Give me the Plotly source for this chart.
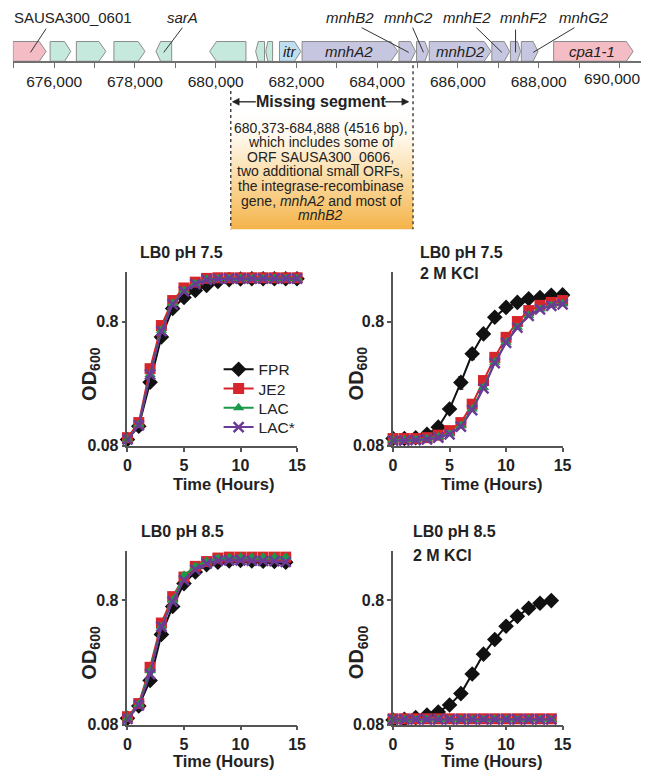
import math
import plotly.graph_objects as go

W, H = 650, 781
FONT = "Liberation Sans, Arial, sans-serif"

def px(x):
    return x / W

def py(y):
    return 1 - y / H

# ---------------- gene map data ----------------
gene_start = [674980, 675900, 676550, 677480, 678520, 679850, 680990, 681240, 681580,
              682140, 684540, 684975, 685290, 686840, 687300, 687570, 688370]
gene_end = [675800, 676410, 677280, 678250, 678910, 680750, 681210, 681410, 682110,
            684510, 684950, 685270, 686820, 687280, 687550, 687985, 690340]
gene_strand = [1, 1, 1, 1, -1, -1, -1, -1, 1, 1, 1, 1, 1, 1, 1, 1, 1]
gene_kind = ["pink", "green", "green", "green", "green", "green", "green", "green", "blue",
             "purple", "purple", "purple", "purple", "purple", "purple", "purple", "pink"]
kind_color = {"pink": "#f4bcc4", "green": "#c6e9dd", "blue": "#bfdff0", "purple": "#c6c6e0"}

missing_start, missing_end = 680373, 684888
map_label_ticks = [676000, 678000, 680000, 682000, 684000, 686000, 688000]
map_label_text = ["676,000", "678,000", "680,000", "682,000", "684,000", "686,000", "688,000"]

# ---------------- growth curve data ----------------
t15 = [0, 1, 2, 3, 4, 5, 6, 7, 8, 9, 10, 11, 12, 13, 14, 15]
t14 = [0, 1, 2, 3, 4, 5, 6, 7, 8, 9, 10, 11, 12, 13, 14]

# LB0 pH 7.5
fpr_a = [0.090, 0.115, 0.26, 0.60, 1.02, 1.25, 1.42, 1.56, 1.68, 1.74, 1.76, 1.77, 1.77, 1.77, 1.77, 1.77]
je2_a = [0.093, 0.123, 0.334, 0.743, 1.18, 1.49, 1.66, 1.78, 1.80, 1.80, 1.80, 1.80, 1.80, 1.80, 1.80, 1.80]
lac_a = [0.090, 0.118, 0.30, 0.68, 1.12, 1.42, 1.62, 1.74, 1.77, 1.78, 1.78, 1.78, 1.78, 1.78, 1.78, 1.78]
lacs_a = [0.090, 0.117, 0.30, 0.67, 1.10, 1.40, 1.60, 1.73, 1.76, 1.77, 1.77, 1.77, 1.77, 1.77, 1.77, 1.77]

# LB0 pH 7.5 2 M KCl
fpr_b = [0.0915, 0.0915, 0.093, 0.099, 0.113, 0.158, 0.259, 0.44, 0.636, 0.867, 1.04, 1.14, 1.22, 1.25, 1.30, 1.31]
fpr_b_err = [0, 0, 0, 0, 0.004, 0.012, 0.03, 0.045, 0.04, 0.03, 0.02, 0.01, 0, 0, 0, 0]
je2_b = [0.0915, 0.0915, 0.0915, 0.093, 0.0974, 0.106, 0.123, 0.173, 0.268, 0.412, 0.597, 0.80, 0.98, 1.08, 1.14, 1.18]
lac_b = [0.089, 0.089, 0.090, 0.091, 0.094, 0.100, 0.116, 0.158, 0.236, 0.376, 0.545, 0.72, 0.894, 1.01, 1.08, 1.11]
lacs_b = [0.088, 0.088, 0.089, 0.090, 0.093, 0.099, 0.114, 0.155, 0.232, 0.37, 0.54, 0.715, 0.89, 1.0, 1.07, 1.10]

# LB0 pH 8.5
fpr_c = [0.090, 0.113, 0.181, 0.425, 0.713, 1.09, 1.35, 1.55, 1.62, 1.66, 1.67, 1.66, 1.65, 1.64, 1.62]
je2_c = [0.0925, 0.118, 0.231, 0.525, 0.856, 1.23, 1.50, 1.64, 1.75, 1.78, 1.78, 1.78, 1.78, 1.78, 1.78]
lac_c = [0.090, 0.116, 0.217, 0.49, 0.80, 1.27, 1.50, 1.64, 1.74, 1.77, 1.78, 1.78, 1.78, 1.78, 1.78]
lacs_c = [0.089, 0.114, 0.204, 0.49, 0.78, 1.16, 1.41, 1.58, 1.67, 1.68, 1.68, 1.67, 1.66, 1.65, 1.63]

# LB0 pH 8.5 2 M KCl
fpr_d = [0.087, 0.088, 0.091, 0.0956, 0.101, 0.115, 0.142, 0.204, 0.295, 0.387, 0.495, 0.594, 0.69, 0.757, 0.795]
fpr_d_err = [0, 0, 0, 0, 0, 0.004, 0.01, 0.014, 0.02, 0.02, 0.015, 0.01, 0, 0, 0]
je2_d = [0.089, 0.089, 0.089, 0.089, 0.089, 0.089, 0.089, 0.089, 0.089, 0.089, 0.089, 0.089, 0.089, 0.089, 0.089]
lac_d = [0.088, 0.088, 0.088, 0.088, 0.088, 0.088, 0.088, 0.088, 0.088, 0.088, 0.088, 0.088, 0.088, 0.088, 0.088]
lacs_d = [0.088, 0.088, 0.088, 0.088, 0.088, 0.088, 0.088, 0.088, 0.088, 0.088, 0.088, 0.088, 0.088, 0.088, 0.088]

strains = ["FPR", "JE2", "LAC", "LAC*"]
strain_color = {"FPR": "#111111", "JE2": "#d7262b", "LAC": "#1a9a48", "LAC*": "#6c3a97"}
strain_symbol = {"FPR": "diamond", "JE2": "square", "LAC": "triangle-up", "LAC*": "x-thin-open"}
strain_size = {"FPR": 12, "JE2": 11, "LAC": 10, "LAC*": 10}
strain_legend = {"FPR": "legend", "JE2": "legend2", "LAC": "legend3", "LAC*": "legend4"}
legend_rows = {"legend": 374, "legend2": 393.5, "legend3": 413, "legend4": 432.5}

panels = [
    ("x", "y", t15, [fpr_a, je2_a, lac_a, lacs_a], None),
    ("x2", "y2", t15, [fpr_b, je2_b, lac_b, lacs_b], fpr_b_err),
    ("x3", "y3", t14, [fpr_c, je2_c, lac_c, lacs_c], None),
    ("x4", "y4", t14, [fpr_d, je2_d, lac_d, lacs_d], fpr_d_err),
]

fig = go.Figure()

# ---------------- gene map ----------------
fig.add_trace(go.Scatter(
    x=[missing_start, missing_end, missing_end, missing_start, missing_start],
    y=[110, 110, 232, 232, 110], xaxis="x5", yaxis="y5",
    mode="lines", line=dict(width=0), fill="toself",
    fillgradient=dict(type="vertical",
                      colorscale=[[0, "#ffffff"], [0.2, "#fffaf0"], [0.55, "#fbdca6"], [1, "#f4b144"]],
                      start=110, stop=232),
    hoverinfo="skip", showlegend=False))

for s, e, strand, kind in zip(gene_start, gene_end, gene_strand, gene_kind):
    length = e - s
    h = min(170, 0.3 * length)
    top, bot, mid = 42, 62, 52
    if strand > 0:
        xs = [s, e - h, e, e - h, s, s]
    else:
        xs = [e, s + h, s, s + h, e, e]
    ys = [top, top, mid, bot, bot, top]
    fig.add_trace(go.Scatter(x=xs, y=ys, xaxis="x5", yaxis="y5", mode="lines",
                             line=dict(color="#8c8c8c", width=1), fill="toself",
                             fillcolor=kind_color[kind], hoverinfo="skip", showlegend=False))

# ---------------- growth curves ----------------
for i, (xa, ya, tt, series, ferr) in enumerate(panels):
    for name, vals in zip(strains, series):
        err = None
        if name == "FPR" and ferr is not None:
            err = dict(type="data", array=ferr, visible=True, thickness=1.2, width=2.5,
                       color="#111111")
        fig.add_trace(go.Scatter(
            x=tt, y=vals, xaxis=xa, yaxis=ya, mode="lines+markers", name=name,
            line=dict(color=strain_color[name], width=2),
            marker=dict(symbol=strain_symbol[name], size=strain_size[name],
                        color=strain_color[name],
                        line=dict(color=strain_color[name], width=2.5 if name == "LAC*" else 0)),
            error_y=err, cliponaxis=False, showlegend=(i == 0), legend=strain_legend[name],
            hoverinfo="skip"))

# ---------------- layout ----------------
lo = math.log10(0.08)
axis_common = dict(showline=True, linecolor="#555555", linewidth=1.5, ticks="outside",
                   ticklen=4, tickcolor="#555555", tickwidth=1.5, showgrid=False, zeroline=False,
                   tickfont=dict(family=FONT, size=16, color="#222222", weight="bold"))
xcommon = dict(axis_common, range=[0, 15], tickvals=[0, 5, 10, 15])
ycommon = dict(axis_common, type="log", range=[lo, lo + 1.40], tickvals=[0.08, 0.8],
               ticktext=["0.08", "0.8"])

left_dom = [px(126), px(299)]
right_dom = [px(397), px(570)]
top_dom = [py(451), py(275)]
bot_dom = [py(733), py(557)]

legends = {}
for key, row in legend_rows.items():
    legends[key] = dict(x=px(219), y=py(row), xanchor="left", yanchor="middle",
                        bgcolor="rgba(0,0,0,0)",
                        font=dict(family=FONT, size=15.5, color="#222222"), itemwidth=30)

fig.update_layout(
    width=W, height=H, margin=dict(l=0, r=0, t=0, b=0),
    paper_bgcolor="white", plot_bgcolor="rgba(0,0,0,0)",
    font=dict(family=FONT, color="#222222"),
    xaxis=dict(xcommon, domain=left_dom, anchor="y"),
    yaxis=dict(ycommon, domain=top_dom, anchor="x"),
    xaxis2=dict(xcommon, domain=right_dom, anchor="y2"),
    yaxis2=dict(ycommon, domain=top_dom, anchor="x2"),
    xaxis3=dict(xcommon, domain=left_dom, anchor="y3"),
    yaxis3=dict(ycommon, domain=bot_dom, anchor="x3"),
    xaxis4=dict(xcommon, domain=right_dom, anchor="y4"),
    yaxis4=dict(ycommon, domain=bot_dom, anchor="x4"),
    xaxis5=dict(domain=[px(9), 1], range=[674976, 690534], anchor="free", position=py(63),
                showline=True, linecolor="#707070", linewidth=1.5, ticks="outside", ticklen=5,
                tickcolor="#707070", tickwidth=1.2, tickvals=map_label_ticks,
                ticktext=map_label_text,
                minor=dict(ticks="outside", ticklen=5, tickcolor="#707070", tickwidth=1.2,
                           tick0=675000, dtick=1000, showgrid=False),
                tickfont=dict(family=FONT, size=15.5, color="#222222"), showgrid=False,
                zeroline=False),
    yaxis5=dict(domain=[0, 1], range=[H, 0], visible=False, anchor="x5"),
    **legends,
)

ann = []
shapes = []

def text(x, y, s, size=15, bold=False, xanchor="center", color="#222222", angle=0):
    ann.append(dict(x=px(x), y=py(y), xref="paper", yref="paper", text=s, showarrow=False,
                    xanchor=xanchor, yanchor="middle", textangle=angle,
                    font=dict(family=FONT, size=size, color=color,
                              weight="bold" if bold else "normal")))

def line(x0, y0, x1, y1, color="#333333", width=1, dash="solid"):
    shapes.append(dict(type="line", xref="paper", yref="paper", x0=px(x0), y0=py(y0),
                       x1=px(x1), y1=py(y1), line=dict(color=color, width=width, dash=dash)))

def head(xtip, y, direction):
    xb = xtip - direction * 7
    path = (f"M {px(xtip)},{py(y)} L {px(xb)},{py(y - 3.5)} "
            f"L {px(xb)},{py(y + 3.5)} Z")
    shapes.append(dict(type="path", xref="paper", yref="paper", path=path,
                       fillcolor="#222222", line=dict(color="#222222", width=0.5)))

# gene labels with leaders
text(70, 18, "SAUSA300_0601")
line(43, 29, 27, 53)
text(182, 18, "<i>sarA</i>")
line(182, 28, 163, 53)
text(353, 18, "<i>mnhB2</i>")
line(365, 28, 413, 53)
text(413, 18, "<i>mnhC2</i>")
line(417, 28, 428, 53)
text(472, 18, "<i>mnhE2</i>")
line(482, 28, 508, 53)
text(530, 18, "<i>mnhF2</i>")
line(522, 30, 522, 53)
text(592, 18, "<i>mnhG2</i>")
line(582, 28, 540, 53)

# inside labels
text(292, 52, "<i>itr</i>")
text(352, 52, "<i>mnhA2</i>")
text(466, 52, "<i>mnhD2</i>")
text(600, 52, "<i>cpa1-1</i>")

# 690,000 label (shifted to stay in frame)
text(620, 79, "690,000", size=15.5)

# missing segment dashed borders
shapes.append(dict(type="line", xref="x5", yref="y5", x0=missing_start, x1=missing_start,
                   y0=86, y1=232, line=dict(color="#444444", width=1.5, dash="3px,3px")))
shapes.append(dict(type="line", xref="x5", yref="y5", x0=missing_end, x1=missing_end,
                   y0=66, y1=232, line=dict(color="#444444", width=1.5, dash="3px,3px")))

text(323, 103, "Missing segment", size=16, bold=True)
line(234, 103, 257, 103, color="#222222", width=1.3)
head(233, 103, -1)
line(389, 103, 412, 103, color="#222222", width=1.3)
head(413, 103, 1)

seg_lines = ["680,373-684,888 (4516 bp),", "which includes some of", "ORF SAUSA300_0606,",
             "two additional small ORFs,", "the integrase-recombinase",
             "gene, <i>mnhA2</i> and most of", "<i>mnhB2</i>"]
for k, s in enumerate(seg_lines):
    text(323, 129 + 14.8 * k, s, size=14)

# panel titles
text(181, 255, "LB0 pH 7.5", size=16, bold=True)
text(422, 255, "LB0 pH 7.5", size=16, bold=True, xanchor="left")
text(422, 277, "2 M KCl", size=16, bold=True, xanchor="left")
text(182, 538, "LB0 pH 8.5", size=16, bold=True)
text(415, 538, "LB0 pH 8.5", size=16, bold=True, xanchor="left")
text(415, 562, "2 M KCl", size=16, bold=True, xanchor="left")

# axis titles
for xc, yc in [(224, 490), (497, 490), (224, 770), (497, 770)]:
    text(xc, yc, "Time (Hours)", size=16.5, bold=True)
for xc, yc in [(88, 378), (361, 378), (88, 660), (361, 660)]:
    text(xc, yc, "OD<sub>600</sub>", size=20, bold=True, angle=-90)

fig.update_layout(annotations=ann, shapes=shapes)
fig.write_html("out.html")
